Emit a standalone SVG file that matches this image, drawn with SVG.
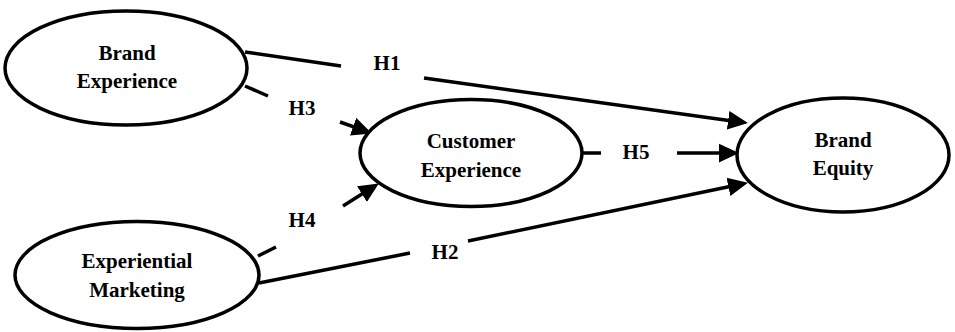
<svg xmlns="http://www.w3.org/2000/svg" width="955" height="332" viewBox="0 0 955 332">
<style>
  .node ellipse { fill: #ffffff; stroke: #000000; stroke-width: 3.5; }
  text { font-family: "Liberation Serif", "Times New Roman", serif; font-weight: bold; font-size: 21px; fill: #000000; text-anchor: middle; }
  .edge { stroke: #000000; stroke-width: 3.5; fill: none; }
</style>
<defs>
  <marker id="arrow" markerUnits="userSpaceOnUse" markerWidth="20" markerHeight="20" viewBox="0 -8 16 16" refX="12" refY="0" orient="auto">
    <path d="M0,-7.5 L16,0 L0,7.5 z" fill="#000000"/>
  </marker>
</defs>
<rect width="955" height="332" fill="#ffffff"/>

<g id="connectors">
  <!-- H1 -->
  <line class="edge" x1="245" y1="52" x2="341" y2="66"/>
  <line class="edge" x1="424" y1="78" x2="743" y2="122.4" marker-end="url(#arrow)"/>
  <text x="387" y="70">H1</text>
  <!-- H3 -->
  <line class="edge" x1="245" y1="86" x2="268" y2="96"/>
  <line class="edge" x1="340" y1="122" x2="367.2" y2="131.7" marker-end="url(#arrow)"/>
  <text x="302" y="115">H3</text>
  <!-- H4 -->
  <line class="edge" x1="258" y1="256" x2="276" y2="247"/>
  <line class="edge" x1="343" y1="206" x2="374.6" y2="186.1" marker-end="url(#arrow)"/>
  <text x="302" y="227">H4</text>
  <!-- H2 -->
  <line class="edge" x1="259" y1="283" x2="410" y2="253"/>
  <line class="edge" x1="468" y1="241" x2="743.1" y2="183.8" marker-end="url(#arrow)"/>
  <text x="445" y="259">H2</text>
  <!-- H5 -->
  <line class="edge" x1="582" y1="153" x2="601" y2="153"/>
  <line class="edge" x1="677" y1="153" x2="734" y2="153" marker-end="url(#arrow)"/>
  <text x="636" y="159">H5</text>
</g>

<g id="brand-experience" class="node">
  <ellipse cx="126" cy="68" rx="121" ry="57"/>
  <text x="127" y="60">Brand</text>
  <text x="127" y="88">Experience</text>
</g>

<g id="customer-experience" class="node">
  <ellipse cx="471" cy="153" rx="111" ry="53.5"/>
  <text x="471" y="148">Customer</text>
  <text x="471" y="177">Experience</text>
</g>

<g id="brand-equity" class="node">
  <ellipse cx="843" cy="155" rx="106" ry="57"/>
  <text x="843" y="147">Brand</text>
  <text x="843" y="175">Equity</text>
</g>

<g id="experiential-marketing" class="node">
  <ellipse cx="137" cy="275" rx="122" ry="53.5"/>
  <text x="137" y="268">Experiential</text>
  <text x="137" y="297">Marketing</text>
</g>
</svg>
